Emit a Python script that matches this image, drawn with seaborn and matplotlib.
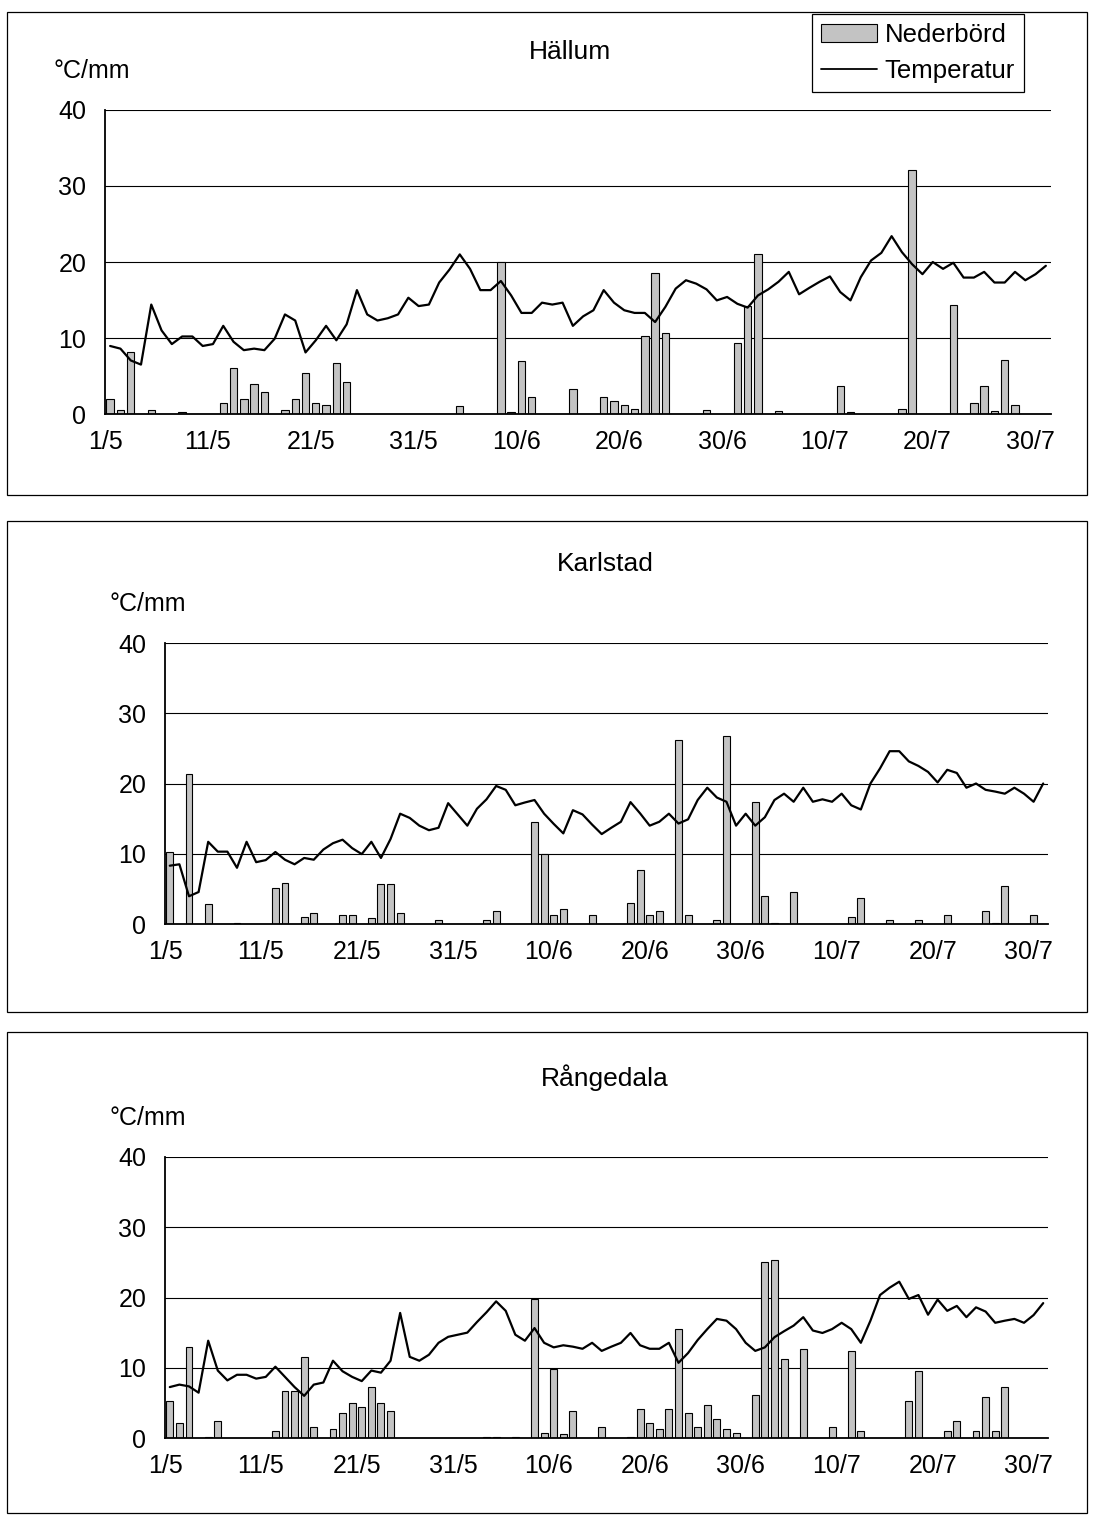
import numpy as np
import pandas as pd
import matplotlib
matplotlib.use('Agg')
import matplotlib.pyplot as plt
from matplotlib.patches import Patch, Rectangle
from matplotlib.lines import Line2D
import seaborn as sns

sns.set_style('white')
plt.rcParams['font.family'] = ['Liberation Sans', 'DejaVu Sans']
plt.rcParams['text.color'] = 'black'
plt.rcParams['xtick.color'] = 'black'
plt.rcParams['ytick.color'] = 'black'

# day index 0 = 1 May, 91 = 31 July
tick_days = [0, 10, 20, 30, 40, 50, 60, 70, 80, 90]
tick_labels = ['1/5', '11/5', '21/5', '31/5', '10/6', '20/6', '30/6', '10/7', '20/7', '30/7']
y_ticks = [0, 10, 20, 30, 40]

hallum_temp = [8.95, 8.6, 7.05, 6.5, 14.4, 11.0, 9.2, 10.2, 10.2, 8.95,
               9.2, 11.6, 9.5, 8.4, 8.6, 8.4, 9.9, 13.1, 12.3, 8.1,
               9.7, 11.6, 9.7, 11.8, 16.3, 13.1, 12.3, 12.6, 13.1, 15.3,
               14.2, 14.4, 17.3, 19.0, 21.0, 19.1, 16.3, 16.3, 17.5, 15.6,
               13.3, 13.3, 14.65, 14.4, 14.65, 11.6, 12.85, 13.65, 16.3, 14.65,
               13.65, 13.3, 13.3, 12.1, 14.1, 16.5, 17.6, 17.15, 16.4, 14.95,
               15.4, 14.5, 14.0, 15.6, 16.4, 17.4, 18.7, 15.75, 16.6, 17.4,
               18.1, 16.05, 14.95, 18.0, 20.2, 21.2, 23.4, 21.3, 19.7, 18.4,
               20.0, 19.1, 19.9, 17.95, 17.95, 18.7, 17.3, 17.3, 18.7, 17.6,
               18.4, 19.5]
hallum_rain_days = [0, 1, 2, 4, 7, 11, 12, 13, 14, 15, 17, 18, 19, 20, 21, 22, 23, 34,
                    38, 39, 40, 41, 45, 48, 49, 50, 51, 52, 53, 54, 58, 61, 62, 63, 65,
                    71, 72, 77, 78, 82, 84, 85, 86, 87, 88]
hallum_rain_mm = [2.0, 0.5, 8.1, 0.5, 0.2, 1.5, 6.0, 2.0, 3.9, 2.85, 0.5, 2.0, 5.45, 1.5,
                  1.2, 6.75, 4.2, 1.0, 20.0, 0.2, 7.0, 2.3, 3.35, 2.3, 1.75, 1.25, 0.7,
                  10.2, 18.6, 10.7, 0.5, 9.4, 14.2, 21.0, 0.4, 3.65, 0.2, 0.7, 32.1,
                  14.4, 1.5, 3.65, 0.4, 7.05, 1.25]

karlstad_temp = [8.3, 8.5, 3.95, 4.55, 11.7, 10.3, 10.3, 8.0, 11.7, 8.8,
                 9.1, 10.25, 9.15, 8.5, 9.4, 9.15, 10.6, 11.5, 12.0, 10.8,
                 9.95, 11.7, 9.4, 12.1, 15.7, 15.1, 14.0, 13.35, 13.7, 17.2,
                 15.6, 14.0, 16.4, 17.75, 19.65, 19.1, 16.9, 17.3, 17.65, 15.7,
                 14.25, 12.9, 16.2, 15.6, 14.15, 12.8, 13.7, 14.55, 17.35, 15.75,
                 14.0, 14.55, 15.7, 14.3, 14.9, 17.65, 19.4, 18.0, 17.4, 14.0,
                 15.7, 14.0, 15.2, 17.65, 18.55, 17.4, 19.4, 17.4, 17.75, 17.4,
                 18.55, 16.9, 16.3, 20.0, 22.15, 24.6, 24.6, 23.15, 22.5, 21.65,
                 20.15, 21.95, 21.5, 19.4, 20.0, 19.1, 18.85, 18.55, 19.4, 18.55,
                 17.4, 20.0]
karlstad_rain_days = [0, 2, 4, 7, 11, 12, 14, 15, 18, 19, 21, 22, 23, 24, 28, 33, 34, 38,
                      39, 40, 41, 44, 48, 49, 50, 51, 53, 54, 57, 58, 61, 62, 63, 65, 71,
                      72, 75, 78, 81, 85, 86, 87, 90]
karlstad_rain_mm = [10.2, 21.4, 2.8, 0.2, 5.1, 5.9, 1.05, 1.6, 1.35, 1.35, 0.8, 5.65, 5.65,
                    1.6, 0.5, 0.5, 1.9, 14.55, 9.95, 1.35, 2.2, 1.35, 3.05, 7.65, 1.35,
                    1.9, 26.2, 1.35, 0.5, 26.7, 17.4, 3.95, 0.2, 4.5, 1.05, 3.65, 0.5,
                    0.5, 1.35, 1.9, 0.2, 5.35, 1.35]

rangedala_temp = [7.25, 7.6, 7.35, 6.45, 13.85, 9.6, 8.2, 9.0, 9.0, 8.45,
                  8.7, 10.15, 8.7, 7.25, 6.0, 7.6, 7.9, 11.0, 9.5, 8.7,
                  8.1, 9.6, 9.3, 11.0, 17.8, 11.55, 11.0, 11.85, 13.55, 14.4,
                  14.7, 15.0, 16.5, 17.9, 19.45, 18.1, 14.7, 13.85, 15.65, 13.55,
                  12.9, 13.2, 13.0, 12.7, 13.55, 12.4, 13.0, 13.55, 14.95, 13.2,
                  12.7, 12.7, 13.55, 10.7, 12.1, 13.95, 15.5, 16.95, 16.7, 15.5,
                  13.55, 12.4, 12.9, 14.35, 15.2, 16.0, 17.2, 15.3, 14.95, 15.5,
                  16.4, 15.5, 13.55, 16.7, 20.35, 21.4, 22.25, 19.8, 20.35, 17.55,
                  19.7, 18.1, 18.8, 17.2, 18.6, 18.0, 16.4, 16.7, 16.95, 16.4,
                  17.5, 19.2]
rangedala_rain_days = [0, 1, 2, 4, 5, 11, 12, 13, 14, 15, 17, 18, 19, 20, 21, 22, 23, 33,
                       34, 36, 38, 39, 40, 41, 42, 45, 48, 49, 50, 51, 52, 53, 54, 55, 56,
                       57, 58, 59, 61, 62, 63, 64, 66, 69, 71, 72, 77, 78, 81, 82, 84, 85,
                       86, 87]
rangedala_rain_mm = [5.3, 2.2, 12.9, 0.2, 2.45, 1.05, 6.7, 6.7, 11.5, 1.6, 1.3, 3.6, 5.0,
                     4.45, 7.25, 5.0, 3.85, 0.2, 0.2, 0.2, 19.8, 0.75, 9.85, 0.5, 3.85,
                     1.6, 0.2, 4.15, 2.2, 1.3, 4.15, 15.5, 3.6, 1.6, 4.7, 2.75, 1.3, 0.75,
                     6.15, 25.1, 25.4, 11.3, 12.7, 1.6, 12.4, 1.05, 5.3, 9.6, 1.05, 2.45,
                     1.05, 5.9, 1.05, 7.3]

W, H = 1094, 1519
BAR_COLOR = '#c3c3c3'
FS = 18


def px_rect(left, top, right, bottom):
    """Pixel box -> figure fraction [x, y, w, h]."""
    return [left / W, 1 - bottom / H, (right - left) / W, (bottom - top) / H]


def draw_station(fig, rect, temp, rain_days, rain_mm):
    ax = fig.add_axes(rect)
    rain = pd.DataFrame({'day': np.array(rain_days) + 0.5, 'mm': rain_mm})
    sns.barplot(data=rain, x='day', y='mm', native_scale=True, width=0.72,
                color=BAR_COLOR, saturation=1, edgecolor='black', linewidth=0.8,
                errorbar=None, ax=ax, zorder=2)
    days = np.arange(len(temp)) + 0.5
    sns.lineplot(x=days, y=temp, color='black', linewidth=1.6, ax=ax, zorder=3)

    ax.set_xlim(0, 92)
    ax.set_ylim(0, 40)
    ax.set_xticks(tick_days)
    ax.set_xticklabels(tick_labels)
    ax.set_yticks(y_ticks)
    ax.set_xlabel('')
    ax.set_ylabel('')
    ax.yaxis.grid(True, color='black', linewidth=0.8)
    ax.xaxis.grid(False)
    ax.set_axisbelow(True)
    for side in ['top', 'right']:
        ax.spines[side].set_visible(False)
    for side in ['left', 'bottom']:
        ax.spines[side].set_color('black')
        ax.spines[side].set_linewidth(1.3)
    ax.tick_params(axis='x', direction='inout', length=11, width=1.3,
                   labelsize=FS, pad=6, colors='black')
    ax.tick_params(axis='y', direction='out', length=6.5, width=1.0,
                   labelsize=FS, pad=7, colors='black')
    return ax


fig = plt.figure(figsize=(W / 100, H / 100), dpi=100)

# panel frames
for top, bottom in [(12, 495), (521, 1012), (1032, 1513)]:
    fig.add_artist(Rectangle((7 / W, 1 - bottom / H), 1080 / W, (bottom - top) / H,
                             transform=fig.transFigure, fill=False,
                             edgecolor='black', linewidth=0.9))

draw_station(fig, px_rect(105, 110, 1051, 414), hallum_temp, hallum_rain_days, hallum_rain_mm)
draw_station(fig, px_rect(165, 643, 1048, 924), karlstad_temp, karlstad_rain_days, karlstad_rain_mm)
draw_station(fig, px_rect(165, 1157, 1048, 1438), rangedala_temp, rangedala_rain_days, rangedala_rain_mm)

# titles and unit labels
for name, x, y in [('Hällum', 570, 52), ('Karlstad', 605, 564), ('Rångedala', 605, 1078)]:
    fig.text(x / W, 1 - y / H, name, ha='center', va='center', fontsize=19, color='black')
for x, y in [(92, 71), (148, 604), (148, 1118)]:
    fig.text(x / W, 1 - y / H, '°C/mm', ha='center', va='center', fontsize=FS, color='black')

handles = [Patch(facecolor=BAR_COLOR, edgecolor='black', linewidth=0.8, label='Nederbörd'),
           Line2D([0], [0], color='black', linewidth=1.3, label='Temperatur')]
leg = fig.legend(handles=handles, loc='upper right',
                 bbox_to_anchor=(1024 / W, 1 - 14 / H), frameon=True, fancybox=False,
                 edgecolor='black', framealpha=1, fontsize=18.5, handlelength=2.2,
                 handleheight=0.7, handletextpad=0.3, labelspacing=0.45,
                 borderpad=0.35, borderaxespad=0)
leg.get_frame().set_linewidth(0.9)
for txt in leg.get_texts():
    txt.set_color('black')

fig.savefig('out.png', dpi=100)
